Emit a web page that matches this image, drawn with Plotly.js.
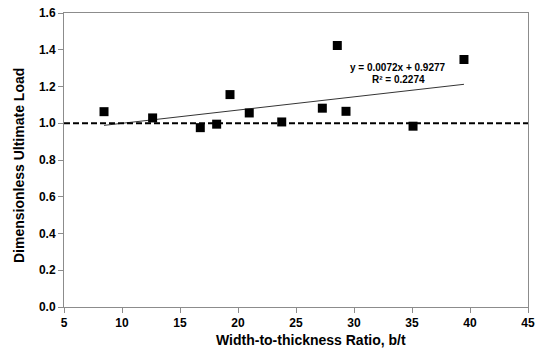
<!DOCTYPE html>
<html>
<head>
<meta charset="utf-8">
<script src="https://cdn.plot.ly/plotly-3.0.1.min.js"></script>
<style>html,body{margin:0;padding:0;background:#fff;}#chart{width:540px;height:353px;}</style>
</head>
<body>
<div id="chart"></div>
<script>
// Data
const ratioBT = [8.45, 12.64, 16.75, 18.16, 19.31, 20.97, 23.77, 27.27, 28.56, 29.31, 35.09, 39.48];
const ultimateLoad = [1.063, 1.029, 0.976, 0.995, 1.156, 1.056, 1.007, 1.082, 1.423, 1.065, 0.984, 1.347];
const trendSlope = 0.0072;
const trendIntercept = 0.9277;
const trendLabel = ["y = 0.0072x + 0.9277", "R² = 0.2274"];
const referenceLevel = 1.0;
const xTicks = [5, 10, 15, 20, 25, 30, 35, 40, 45];
const yTicks = [0.0, 0.2, 0.4, 0.6, 0.8, 1.0, 1.2, 1.4, 1.6];
const xTitle = "Width-to-thickness Ratio, b/t";
const yTitle = "Dimensionless Ultimate Load";

const font = {family: "Liberation Sans, Arial, sans-serif", color: "#000", weight: 700};
const xMin = Math.min(...ratioBT), xMax = Math.max(...ratioBT);
const trendX = [xMin, xMax];
const trendY = trendX.map(x => trendSlope * x + trendIntercept);

const traces = [
  {x: [xTicks[0], xTicks[xTicks.length-1]], y: [referenceLevel, referenceLevel], mode: "lines",
   line: {color: "#000", width: 2, dash: "6px,3px"}, hoverinfo: "skip"},
  {x: trendX, y: trendY, mode: "lines", line: {color: "#000", width: 0.8}, hoverinfo: "skip"},
  {x: ratioBT, y: ultimateLoad, mode: "markers",
   marker: {symbol: "square", size: 9, color: "#000"}}
];

const layout = {
  width: 540, height: 353,
  margin: {l: 64, r: 12, t: 13, b: 46},
  paper_bgcolor: "#fff", plot_bgcolor: "#fff",
  showlegend: false,
  font: font,
  xaxis: {
    range: [xTicks[0], xTicks[xTicks.length-1]], tickvals: xTicks, ticktext: xTicks.map(String),
    showgrid: false, zeroline: false, showline: true, linecolor: "#8c8c8c", linewidth: 1, mirror: true,
    ticks: "outside", ticklen: 5, tickcolor: "#8c8c8c",
    tickfont: {family: font.family, size: 12, color: "#000", weight: 700}
  },
  yaxis: {
    range: [yTicks[0], yTicks[yTicks.length-1]], tickvals: yTicks, ticktext: yTicks.map(v => v.toFixed(1)),
    showgrid: false, zeroline: false, showline: true, linecolor: "#8c8c8c", linewidth: 1, mirror: true,
    ticks: "outside", ticklen: 5, tickcolor: "#8c8c8c",
    tickfont: {family: font.family, size: 12, color: "#000", weight: 700}
  },
  annotations: [
    {x: 33.8, y: 1.305, xref: "x", yref: "y", text: trendLabel[0], showarrow: false,
     font: {family: font.family, size: 10, color: "#000", weight: 700}},
    {x: 33.8, y: 1.24, xref: "x", yref: "y", text: trendLabel[1], showarrow: false,
     font: {family: font.family, size: 10, color: "#000", weight: 700}},
    {x: 311/540, y: 1 - 340/353, xref: "paper", yref: "paper", xanchor: "center", yanchor: "middle",
     text: xTitle, showarrow: false, font: {family: font.family, size: 14, color: "#000", weight: 700}},
    {x: 0, y: 1 - 166/353, xref: "paper", yref: "paper", xanchor: "center", yanchor: "middle",
     text: yTitle, textangle: -90, showarrow: false, font: {family: font.family, size: 14, color: "#000", weight: 700}}
  ]
};
// paper coords relative to plot area: convert pixel positions
(function(){
  const L = layout.margin.l, R = layout.margin.r, T = layout.margin.t, B = layout.margin.b;
  const pw = layout.width - L - R, ph = layout.height - T - B;
  const toX = px => (px - L) / pw, toY = py => (layout.height - B - py) / ph;
  layout.annotations[2].x = toX(311); layout.annotations[2].y = toY(340);
  layout.annotations[3].x = toX(19); layout.annotations[3].y = toY(166);
})();

Plotly.newPlot("chart", traces, layout, {staticPlot: true, displayModeBar: false});
</script>
</body>
</html>
